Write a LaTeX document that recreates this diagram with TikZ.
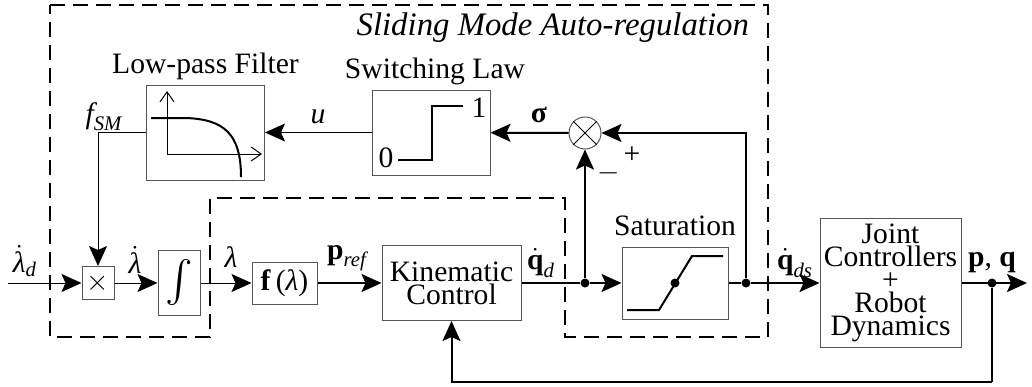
\documentclass[tikz,border=0pt]{standalone}
\usepackage{amsmath}
\usepackage{fontspec}
\setmainfont{Liberation Serif}
\usepackage{tikz}
\usetikzlibrary{arrows.meta,positioning,calc}
\definecolor{Wire}{HTML}{000000}
\definecolor{Frame}{HTML}{555555}
\newcommand{\lamsym}{\text{\itshape λ}}
\newcommand{\subit}[1]{_{\text{\itshape #1}}}
\newcommand{\figfont}{\fontsize{14.8pt}{11.5pt}\selectfont}
\newcommand{\titlefont}{\fontsize{16.4pt}{18pt}\selectfont\itshape}

\begin{document}
\begin{tikzpicture}[x=0.5pt,y=-0.5pt,
    font=\figfont,
    blk/.style={draw=Frame,line width=0.5pt,fill=white,inner sep=0pt,align=center},
    lbl/.style={inner sep=0pt,text height=10pt,text depth=3pt},
    thinw/.style={line width=0.5pt,Wire},
    thickw/.style={line width=1pt,Wire},
    arrowed/.style={-{Stealth[length=10pt,width=9pt,inset=2pt]}},
    axis/.style={line width=0.5pt,-{Straight Barb[length=5pt,width=7pt]}},
    junct/.style={circle,fill=Wire,inner sep=0pt,minimum size=4.5pt},
    region/.style={line width=1pt,dash pattern=on 7.5pt off 4pt}]
        \useasboundingbox (0,0) rectangle (1032,386);
        % dashed sliding mode area
        \draw[region] (50,5) -- (768,5) -- (768,337) -- (565,337) -- (565,198) -- (210,198) -- (210,337) -- (50,337) -- cycle;
        \node[font=\titlefont,anchor=east] (title) at (756,28) {Sliding Mode Auto-regulation};

        % blocks
        \node[blk,minimum width=59pt,minimum height=47.5pt] (lpf) at (205.5,132.5) {};
        \node[blk,minimum width=59pt,minimum height=42.5pt] (sw) at (431,132.5) {};
        \node[draw=Frame,line width=0.5pt,fill=white,circle,minimum size=16pt,inner sep=0pt] (sum) at (585,133) {};
        \node[blk,minimum width=16pt,minimum height=16.5pt] (mul) at (98,283) {$\times$};
        \node[blk,minimum width=21pt,minimum height=32.5pt] (intg) at (179,283) {\fontsize{22pt}{22pt}\selectfont$\int$};
        \node[blk,minimum width=32.5pt,minimum height=21pt] (flam) at (284.5,283) {\textbf{f}\,($\lamsym$)};
        \node[blk,minimum width=69.5pt,minimum height=37.5pt] (kin) at (451.5,283) {Kinematic\\Control};
        \node[blk,minimum width=53pt,minimum height=36pt] (sat) at (675,283) {};
        \node[blk,minimum width=70.5pt,minimum height=64.5pt] (jnt) at (890.5,283) {Joint\\Controllers\\+\\Robot\\Dynamics};

        \node[lbl,above=2.5pt of lpf] (lpflbl) {Low-pass Filter};
        \node[lbl,above=2.5pt of sw,xshift=2pt] (swlbl) {Switching Law};
        \node[lbl,above=2.5pt of sat] (satlbl) {Saturation};

        % block contents
        \draw[axis] (167,154) -- (167,91);
        \draw[axis] (167,154) -- (262,154);
        \draw[line width=1pt] (151,118) -- (185,118) .. controls (225,119) and (241,135) .. (241,177);
        \draw[line width=1pt] (398,160) -- (432,160) -- (432,106) -- (463,106);
        \node (zero) at (386,158) {0};
        \node (one) at (479,108) {1};
        \draw[line width=1pt] (627,310) -- (659,310) -- (692,256) -- (723,256);
        \node[junct] (satmid) at (675,283) {};
        \draw[thinw] (sum.north west) -- (sum.south east) (sum.north east) -- (sum.south west);

        % junctions and ends
        \coordinate (in) at (8,283);
        \coordinate (out) at (1027,283);
        \coordinate (fb) at (992,382);
        \node[junct] (j1) at (585,283) {};
        \node[junct] (j2) at (746,283) {};
        \node[junct] (j3) at (992,283) {};

        % connectors
        \draw[thinw,arrowed] (in) -- (mul);
        \draw[thinw,arrowed] (mul) -- (intg);
        \draw[thinw,arrowed] (intg) -- (flam);
        \draw[thickw,arrowed] (flam) -- (kin);
        \draw[thickw] (kin) -- (j1);
        \draw[thickw,arrowed] (j1) -- (sat);
        \draw[thickw] (sat) -- (j2);
        \draw[thickw,arrowed] (j2) -- (jnt);
        \draw[thickw,arrowed] (jnt) -- (out);
        \draw[thickw,arrowed] (j1) -- (sum);
        \draw[thickw,arrowed] (j2) |- (sum);
        \draw[thickw,arrowed] (sum) -- (sw);
        \draw[thinw,arrowed] (sw) -- (lpf);
        \draw[thinw,arrowed] (lpf.west) -| (mul.north);
        \draw[thickw] (j3) -- (fb);
        \draw[thickw,arrowed] (fb) -| (kin.south);

        % signal labels
        \node (fsm) at (104,117) {$\text{\itshape f}\subit{SM}$};
        \node (ulbl) at (318,117) {\itshape u};
        \node (sig) at (539,115) {\bfseries σ};
        \node (plus) at (632,155) {+};
        \node (minus) at (609,173) {$-$};
        \node (lamd) at (25,261) {$\dot{\lamsym}\subit{d}$};
        \node (lamdot) at (135,260) {$\dot{\lamsym}$};
        \node (lam) at (231,257) {$\lamsym$};
        \node (pref) at (347,258) {$\textbf{p}\subit{ref}$};
        \node (qd) at (541,263) {$\dot{\textbf{q}}\subit{d}$};
        \node (qds) at (795,263) {$\dot{\textbf{q}}\subit{ds}$};
        \node (pq) at (992,263) {\textbf{p}, \textbf{q}};
      \end{tikzpicture}
\end{document}
